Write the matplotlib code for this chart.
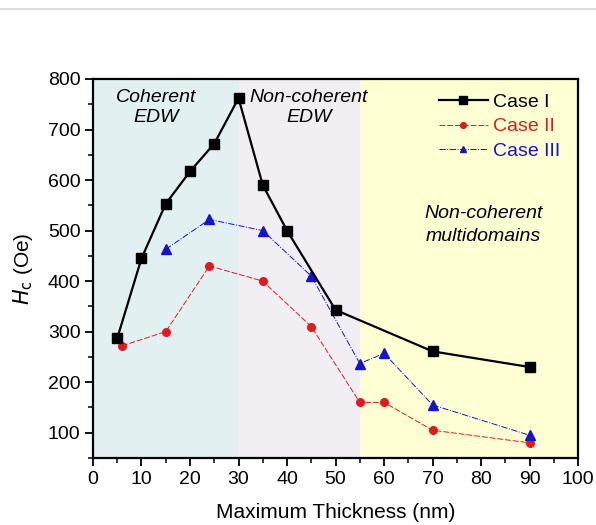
import numpy as np
import matplotlib.pyplot as plt
from matplotlib.ticker import MultipleLocator
from matplotlib.lines import Line2D

plt.rcParams['font.family'] = ['Liberation Sans', 'DejaVu Sans']

# Coercivity vs maximum thickness
x1 = [5, 10, 15, 20, 25, 30, 35, 40, 50, 70, 90]
hc1 = [287, 445, 553, 617, 672, 762, 590, 500, 343, 261, 230]

x2 = [6, 15, 24, 35, 45, 55, 60, 70, 90]
hc2 = [272, 300, 430, 400, 310, 160, 160, 105, 80]

x3 = [15, 24, 35, 45, 55, 60, 70, 90]
hc3 = [463, 522, 500, 410, 237, 257, 155, 95]

# regime boundaries (nm)
regions = [(0, 30, '#e3f0f2'), (30, 55, '#f1eef4'), (55, 100, '#ffffd4')]

fs = 14

fig = plt.figure(figsize=(5.96, 5.25), dpi=100)
ax = fig.add_axes([0.156, 0.1276, 0.814, 0.722])

# thin separator line along the top
fig.add_artist(Line2D([0, 1], [0.982, 0.982], color='#dddddd', lw=1.5))

for a, b, c in regions:
    ax.axvspan(a, b, color=c, lw=0, zorder=0)

ax.plot(x1, hc1, '-s', color='black', lw=1.6, ms=6.8, label='Case I', zorder=4)
ax.plot(x2, hc2, '--o', color='#e01a1f', lw=0.7, ms=5.5, dashes=(6, 2), label='Case II', zorder=3)
ax.plot(x3, hc3, '-.^', color='#1414c8', lw=0.7, ms=6.5, label='Case III', zorder=3)

ax.set_xlim(0, 100)
ax.set_ylim(50, 800)
ax.xaxis.set_major_locator(MultipleLocator(10))
ax.xaxis.set_minor_locator(MultipleLocator(5))
ax.yaxis.set_major_locator(MultipleLocator(100))
ax.yaxis.set_minor_locator(MultipleLocator(50))
ax.set_yticks(range(100, 801, 100))
ax.tick_params(which='major', direction='out', length=6, width=1.3, labelsize=fs, colors='black', pad=3)
ax.tick_params(which='minor', direction='out', length=3.5, width=1.1)
for s in ax.spines.values():
    s.set_linewidth(1.6)

ax.set_xlabel('Maximum Thickness (nm)', fontsize=fs + 1, labelpad=11)
ax.set_ylabel('$H_\\mathrm{c}$ (Oe)', fontsize=fs + 1, labelpad=9)

ax.text(13, 780, 'Coherent\nEDW', style='italic', fontsize=fs, ha='center', va='top', linespacing=1.2)
ax.text(44.5, 780, 'Non-coherent\nEDW', style='italic', fontsize=fs, ha='center', va='top', linespacing=1.2)
ax.text(80.5, 550, 'Non-coherent\nmultidomains', style='italic', fontsize=fs, ha='center', va='top', linespacing=1.45)

leg = ax.legend(loc='upper right', bbox_to_anchor=(1.0, 1.008), frameon=False, fontsize=fs,
                handlelength=2.5, handletextpad=0.3, labelspacing=0.35, markerscale=0.75)
for t, c in zip(leg.get_texts(), ['black', '#e01a1f', '#1414c8']):
    t.set_color(c)

fig.savefig('out.png', dpi=100)
